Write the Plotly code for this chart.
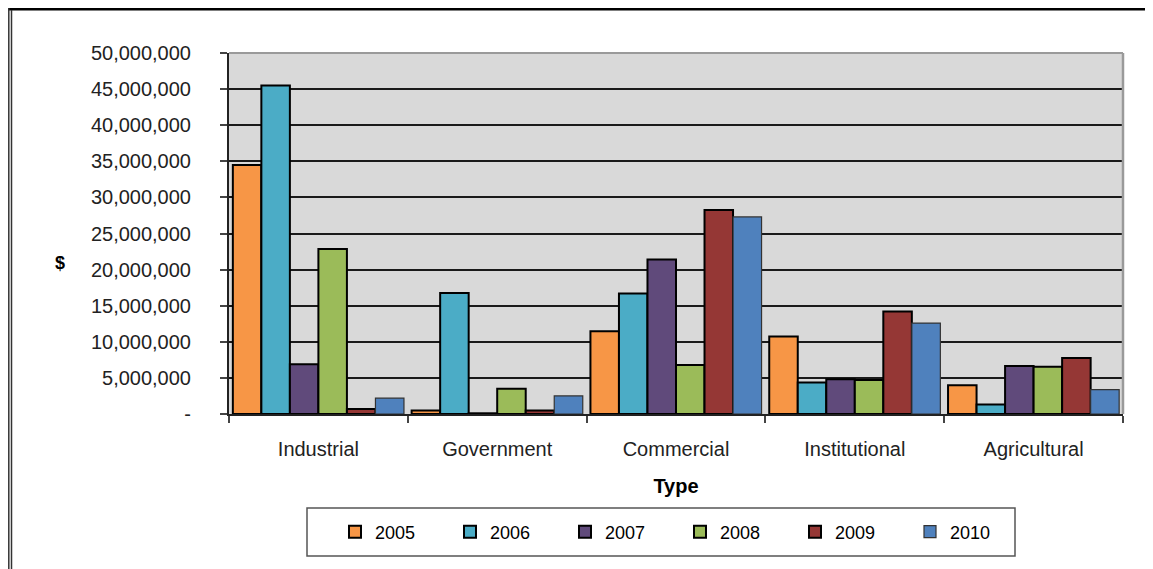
import plotly.graph_objects as go

categories = ["Industrial", "Government", "Commercial", "Institutional", "Agricultural"]
years = ["2005", "2006", "2007", "2008", "2009", "2010"]
v2005 = [34500000, 500000, 11450000, 10750000, 3970000]
v2006 = [45500000, 16750000, 16700000, 4350000, 1300000]
v2007 = [6900000, 100000, 21400000, 4800000, 6650000]
v2008 = [22850000, 3500000, 6800000, 4700000, 6550000]
v2009 = [700000, 500000, 28250000, 14200000, 7750000]
v2010 = [2200000, 2500000, 27300000, 12600000, 3370000]
series = [v2005, v2006, v2007, v2008, v2009, v2010]
colors = ["#F79646", "#4BACC6", "#604A7B", "#9BBB59", "#953735", "#4F81BD"]
y_tickvals = [0, 5000000, 10000000, 15000000, 20000000, 25000000, 30000000, 35000000, 40000000, 45000000, 50000000]
y_ticktext = ["-", "5,000,000", "10,000,000", "15,000,000", "20,000,000", "25,000,000",
              "30,000,000", "35,000,000", "40,000,000", "45,000,000", "50,000,000"]

FONT = "Liberation Sans, Arial, sans-serif"
OFF = 8  # page body margin
W, H = 1153 - OFF, 569 - OFF
# plot area in page pixels
L, R, T, B = 229, 1123, 53, 414


def px(x):
    return (x - L) / (R - L)


def py(y):
    return (B - y) / (B - T)


fig = go.Figure()
for name, vals, col in zip(years, series, colors):
    lw = 1.2 if name == "2010" else 2
    lc = "#333333" if name == "2010" else "black"
    fig.add_trace(go.Bar(name=name, x=categories, y=vals,
                         marker=dict(color=col, line=dict(color=lc, width=lw))))

shapes = [
    # plot area top/right border (gray)
    dict(type="line", xref="paper", yref="paper", x0=0, x1=1, y0=1, y1=1,
         line=dict(color="#9A9A9A", width=2), layer="above"),
    dict(type="line", xref="paper", yref="paper", x0=1, x1=1, y0=0, y1=1,
         line=dict(color="#9A9A9A", width=2.5), layer="above"),
    # outer frame (as close to the page edge as the figure allows)
    dict(type="line", xref="paper", yref="paper", x0=px(8), x1=px(1170), y0=py(9.3), y1=py(9.3),
         line=dict(color="black", width=2.5)),
    dict(type="line", xref="paper", yref="paper", x0=px(8.8), x1=px(8.8), y0=py(8), y1=py(580),
         line=dict(color="#333333", width=1.5)),
    dict(type="line", xref="paper", yref="paper", x0=px(11.5), x1=px(11.5), y0=py(10), y1=py(580),
         line=dict(color="#333333", width=1.5)),
    # legend box
    dict(type="rect", xref="paper", yref="paper", x0=px(307), x1=px(1015), y0=py(508), y1=py(556),
         line=dict(color="#555555", width=1.5), fillcolor="rgba(0,0,0,0)"),
]

fig.update_layout(
    width=W, height=H,
    margin=dict(l=L - OFF, r=W - (R - OFF), t=T - OFF, b=H - (B - OFF)),
    paper_bgcolor="white",
    plot_bgcolor="#D9D9D9",
    barmode="group",
    bargap=0.043,
    bargroupgap=0,
    font=dict(family=FONT, size=20, color="#222222"),
    showlegend=True,
    legend=dict(orientation="h", x=px(680), y=py(532), xanchor="center", yanchor="middle",
                font=dict(family=FONT, size=18, color="black"),
                bgcolor="rgba(0,0,0,0)", borderwidth=0,
                entrywidth=70, entrywidthmode="pixels", itemwidth=30,
                traceorder="normal"),
    shapes=shapes,
    annotations=[
        dict(text="<b>$</b>", xref="paper", yref="paper", x=px(60), y=py(263),
             xanchor="center", yanchor="middle", showarrow=False,
             font=dict(family=FONT, size=18, color="black")),
    ],
    xaxis=dict(
        type="category",
        showgrid=False,
        showline=True, linecolor="#222222", linewidth=2,
        ticks="outside", ticklen=7, tickcolor="#444444", tickwidth=1.5,
        tickson="boundaries",
        ticklabelstandoff=16,
        tickfont=dict(family=FONT, size=20, color="#222222"),
        title=dict(text="<b>Type</b>", font=dict(family=FONT, size=20, color="black"), standoff=20),
    ),
    yaxis=dict(
        range=[0, 50000000],
        tickvals=y_tickvals, ticktext=y_ticktext,
        showgrid=True, gridcolor="#1a1a1a", gridwidth=1.5,
        zeroline=False,
        showline=True, linecolor="#222222", linewidth=2,
        ticks="outside", ticklen=7, tickcolor="#444444", tickwidth=1.5,
        ticklabelstandoff=25,
        tickfont=dict(family=FONT, size=20, color="#222222"),
    ),
)

fig.write_html("out.html")
